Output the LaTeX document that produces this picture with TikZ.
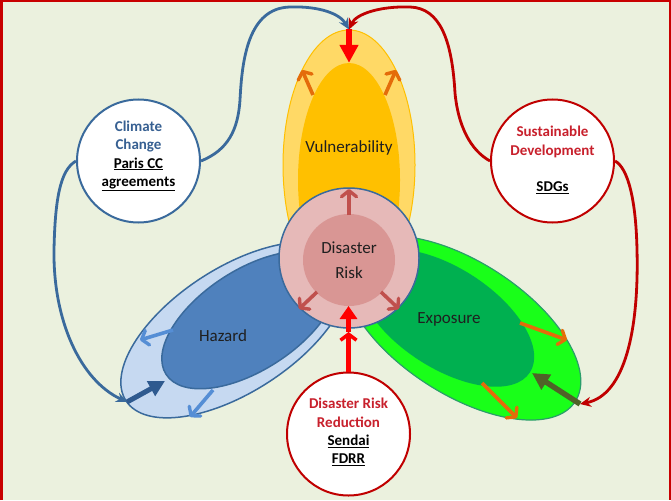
\documentclass[tikz,border=0pt]{standalone}
\usepackage{fontspec}
\setmainfont{Carlito}
\usetikzlibrary{shapes.geometric,arrows.meta}
\definecolor{bg}{HTML}{EBF1DE}
\definecolor{frame}{HTML}{C80000}
\definecolor{vlight}{HTML}{FFD966}
\definecolor{vdark}{HTML}{FFC000}
\definecolor{hlight}{HTML}{C6D9F1}
\definecolor{hdark}{HTML}{4F81BD}
\definecolor{hline}{HTML}{3A6A9C}
\definecolor{elight}{HTML}{19FF19}
\definecolor{edark}{HTML}{00B050}
\definecolor{eline}{HTML}{2A9E6A}
\definecolor{rlight}{HTML}{E6B9B8}
\definecolor{rdark}{HTML}{D99694}
\definecolor{rarrow}{HTML}{C0504D}
\definecolor{oarrow}{HTML}{E46C0A}
\definecolor{barrow}{HTML}{558ED5}
\definecolor{ccblue}{HTML}{3A6A9C}
\definecolor{cctext}{HTML}{376092}
\definecolor{sdred}{HTML}{C00000}
\definecolor{sdtext}{HTML}{C8202C}
\definecolor{olive}{HTML}{4F6228}
\definecolor{darkblue}{HTML}{2F5A8F}
\definecolor{brightred}{HTML}{FF0000}
\begin{document}
\begin{tikzpicture}[x=1pt,y=1pt,
  lbl/.style={font=\fontsize{17}{20}\selectfont, text={black!88}},
  bubble/.style={circle, fill=white, line width=2pt, minimum size=123pt, inner sep=0pt},
  btext/.style={font=\bfseries\fontsize{15}{18.3}\selectfont, align=center},
  curveblue/.style={draw=ccblue, line width=2.8pt, -{Stealth[length=11pt,width=10pt]}},
  curvered/.style={draw=sdred, line width=2.8pt, -{Stealth[length=11pt,width=10pt]}},
  thinarrow/.style={line width=3.6pt, -{Straight Barb[length=6pt,width=15pt,line width=3.4pt,round]}},
  thickarrow/.style={line width=5.5pt, -{Triangle[length=17pt,width=17pt]}},
]
\useasboundingbox (0,0) rectangle (671,-500);
\fill[bg] (0,0) rectangle (671,-500);

% ellipses
\node[ellipse, minimum width=132pt, minimum height=270pt, inner sep=0pt, fill=vlight, draw=vdark, line width=1pt] (vout) at (349,-165) {};
\node[ellipse, minimum width=102pt, minimum height=234pt, inner sep=0pt, fill=vdark] (vin) at (349,-180) {};
\node[ellipse, rotate=33, minimum width=260pt, minimum height=124pt, inner sep=0pt, fill=hlight, draw=hline, line width=1.5pt] (hout) at (235,-330) {};
\node[ellipse, rotate=33, minimum width=200pt, minimum height=100pt, inner sep=0pt, fill=hdark, draw=hline, line width=1.5pt] (hin) at (250,-320) {};
\node[ellipse, rotate=-33, minimum width=270pt, minimum height=132pt, inner sep=0pt, fill=elight, draw=eline, line width=1.2pt] (eout) at (462,-328) {};
\node[ellipse, rotate=-33, minimum width=200pt, minimum height=100pt, inner sep=0pt, fill=edark] (ein) at (446,-318) {};

% risk circle
\node[circle, minimum size=140pt, inner sep=0pt, fill=rlight, draw=hline, line width=1.5pt] (rout) at (349,-258) {};
\node[circle, minimum size=92pt, inner sep=0pt, fill=rdark] (rin) at (349,-260) {};

% labels
\node[lbl] (vlab) at (349,-148) {Vulnerability};
\node[lbl] (hlab) at (223,-336) {Hazard};
\node[lbl] (elab) at (449,-319) {Exposure};
\node[lbl, align=center, font=\fontsize{17}{25}\selectfont] (rlab) at (349,-260) {Disaster\\Risk};

% bubbles
\node[bubble, draw=ccblue] (cc) at (138.5,-161) {};
\node[bubble, draw=sdred] (sd) at (552.5,-161) {};
\node[bubble, draw=sdred] (drr) at (348.5,-434) {};
\node[btext, text=cctext] (cct) at (138.5,-156) {Climate\\Change\\\textcolor{black}{\underline{Paris CC}}\\\textcolor{black}{\underline{agreements}}};
\node[btext, text=sdtext] (sdt) at (552.5,-160) {Sustainable\\Development\\[18.3pt]\textcolor{black}{\underline{SDGs}}};
\node[btext, text=sdtext] (drrt) at (348.5,-432) {Disaster Risk\\Reduction\\\textcolor{black}{\underline{Sendai}}\\\textcolor{black}{\underline{FDRR}}};

% long connectors
\draw[curveblue] (cc.east) .. controls (228,-150) and (238,-130) .. (240,-100) .. controls (242,-60) and (248,-8) .. (290,-7) .. controls (320,-6) and (340,-14) .. (vout.north);
\draw[curvered] (sd.west) .. controls (470,-150) and (458,-125) .. (455,-93) .. controls (452,-40) and (440,-8) .. (410,-7) .. controls (380,-6) and (356,-14) .. (vout.north);
\coordinate (hentry) at (127,-402);
\coordinate (hinedge) at (165,-381);
\draw[curveblue] (cc.west) .. controls (60,-170) and (55,-200) .. (54,-250) .. controls (53,-320) and (80,-380) .. (hentry);
\draw[thickarrow, darkblue, -{Triangle[length=16pt,width=16pt]}, line width=5pt] (hentry) -- (hinedge);
\coordinate (eentry) at (580,-404);
\coordinate (einedge) at (532,-373);
\draw[curvered] (sd.east) .. controls (628,-168) and (636,-200) .. (637,-250) .. controls (639,-330) and (625,-395) .. (eentry);
\draw[thickarrow, olive] (eentry) -- (einedge);
\draw[thickarrow, brightred, line width=6pt, -{Triangle[length=18pt,width=18pt]}] (vout.north) -- (vin.north);

% DRR arrow
\coordinate (rbot) at (348.5,-332);
\coordinate (rintip) at (348.5,-306);
\draw[brightred, line width=4.5pt, -{Straight Barb[length=6pt,width=16pt,line width=3.5pt]}] (drr.north) -- (rbot);
\draw[brightred, line width=4.5pt, -{Triangle[length=13pt,width=17pt]}] (rbot) -- (rintip);

% small arrows: vulnerability
\coordinate (va1) at (313,-95);  \coordinate (va1t) at (302,-70);
\coordinate (va2) at (385,-95);  \coordinate (va2t) at (396,-70);
\draw[thinarrow, oarrow] (va1) -- (va1t);
\draw[thinarrow, oarrow] (va2) -- (va2t);
% risk circle
\coordinate (ra1) at (349,-215); \coordinate (ra1t) at (349,-189);
\coordinate (ra2) at (317,-292); \coordinate (ra2t) at (299,-309);
\coordinate (ra3) at (381,-292); \coordinate (ra3t) at (399,-309);
\draw[thinarrow, rarrow] (ra1) -- (ra1t);
\draw[thinarrow, rarrow] (ra2) -- (ra2t);
\draw[thinarrow, rarrow] (ra3) -- (ra3t);
% exposure
\coordinate (ea1) at (520,-323); \coordinate (ea1t) at (567,-340);
\coordinate (ea2) at (482,-383); \coordinate (ea2t) at (517,-418);
\draw[thinarrow, oarrow] (ea1) -- (ea1t);
\draw[thinarrow, oarrow] (ea2) -- (ea2t);
% hazard
\coordinate (ha1) at (173,-330); \coordinate (ha1t) at (140,-340);
\coordinate (ha2) at (213,-390); \coordinate (ha2t) at (190,-417);
\draw[thinarrow, barrow] (ha1) -- (ha1t);
\draw[thinarrow, barrow] (ha2) -- (ha2t);

% frame
\draw[frame, line width=3pt] (1.5,-500) -- (1.5,-1);
\draw[frame, line width=2pt] (0,-1) -- (671,-1);
\draw[frame, line width=2.2pt] (669.9,-1) -- (669.9,-500);
\end{tikzpicture}
\end{document}
